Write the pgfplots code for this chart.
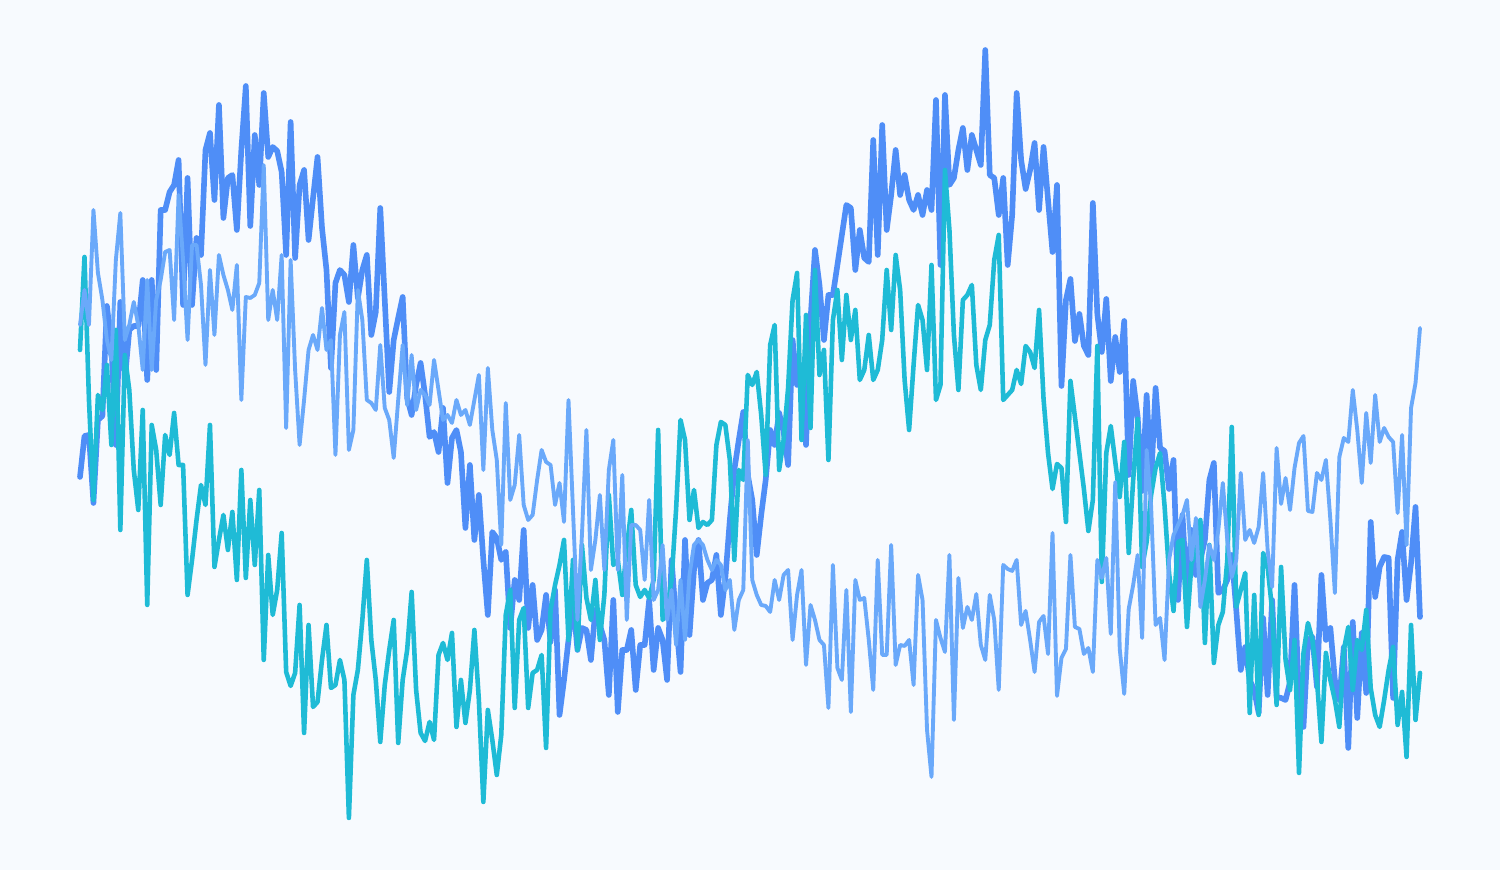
\documentclass[border=0pt]{standalone}
\usepackage{pgfplots}
\usepackage{pgfplotstable}
\pgfplotsset{compat=1.18}

\definecolor{bgc}{HTML}{F7FAFE}
\definecolor{darkblue}{HTML}{4F8EF7}
\definecolor{tealc}{HTML}{1FBBD6}
\definecolor{lightblue}{HTML}{6AA9FA}

% values are screen rows (top = 0), 300 samples per series
\pgfplotstableread[row sep=\\]{
y\\
477\\436\\435\\503\\420\\416\\306\\345\\445\\302\\
380\\330\\326\\326\\280\\380\\280\\370\\210\\210\\
192\\185\\160\\305\\178\\305\\238\\255\\150\\133\\
200\\105\\218\\178\\175\\230\\150\\86\\226\\135\\
185\\93\\157\\147\\151\\172\\255\\122\\258\\185\\
170\\240\\198\\157\\228\\270\\368\\283\\270\\275\\
302\\245\\298\\270\\255\\335\\312\\208\\300\\392\\
340\\318\\297\\398\\415\\385\\363\\395\\437\\432\\
452\\408\\483\\438\\430\\452\\528\\465\\540\\495\\
560\\615\\532\\538\\560\\552\\628\\580\\600\\530\\
628\\585\\640\\630\\595\\642\\590\\715\\680\\640\\
600\\650\\628\\630\\660\\610\\625\\640\\695\\600\\
712\\650\\650\\630\\690\\645\\645\\600\\670\\628\\
640\\680\\560\\620\\672\\540\\635\\570\\540\\600\\
583\\580\\555\\615\\578\\520\\470\\440\\412\\475\\
500\\555\\515\\480\\430\\445\\413\\432\\465\\340\\
385\\375\\445\\320\\250\\285\\340\\295\\295\\265\\
235\\205\\208\\270\\230\\258\\262\\140\\255\\125\\
230\\195\\150\\195\\175\\200\\210\\195\\215\\190\\
210\\100\\265\\95\\185\\178\\150\\128\\170\\135\\
150\\165\\50\\175\\178\\215\\178\\265\\215\\93\\
160\\189\\170\\143\\210\\147\\200\\252\\185\\386\\
300\\279\\341\\314\\346\\355\\203\\314\\352\\299\\
381\\337\\372\\321\\475\\381\\417\\491\\395\\480\\
388\\448\\451\\489\\460\\600\\515\\597\\530\\575\\
560\\540\\480\\463\\593\\590\\580\\555\\610\\670\\
647\\680\\690\\713\\618\\695\\600\\697\\698\\700\\
682\\585\\700\\727\\640\\637\\687\\575\\640\\628\\
680\\700\\647\\748\\622\\718\\633\\693\\522\\597\\
567\\557\\558\\698\\560\\532\\600\\563\\507\\617\\
}\darkdata

\pgfplotstableread[row sep=\\]{
y\\
350\\257\\400\\500\\395\\410\\365\\445\\330\\530\\
355\\390\\470\\510\\410\\605\\425\\450\\505\\435\\
455\\413\\465\\465\\595\\560\\520\\485\\505\\425\\
567\\540\\515\\550\\512\\580\\470\\578\\500\\565\\
490\\660\\555\\615\\590\\533\\672\\686\\673\\605\\
733\\625\\707\\702\\660\\625\\688\\685\\660\\680\\
818\\695\\670\\620\\560\\640\\680\\742\\685\\650\\
620\\743\\680\\650\\592\\690\\733\\741\\722\\740\\
655\\643\\660\\633\\727\\680\\723\\690\\630\\700\\
802\\710\\740\\775\\735\\615\\590\\708\\620\\608\\
708\\673\\670\\655\\748\\610\\585\\565\\540\\640\\
560\\650\\545\\598\\620\\580\\640\\595\\495\\565\\
560\\595\\548\\510\\585\\597\\590\\598\\580\\430\\
620\\610\\580\\510\\420\\440\\520\\490\\528\\522\\
525\\520\\445\\422\\425\\460\\560\\470\\480\\375\\
385\\372\\415\\475\\345\\325\\470\\440\\388\\300\\
273\\440\\315\\428\\270\\375\\350\\460\\320\\290\\
360\\295\\340\\310\\380\\370\\335\\380\\370\\340\\
270\\330\\255\\290\\380\\430\\365\\305\\320\\370\\
265\\400\\385\\170\\230\\335\\390\\300\\295\\285\\
365\\390\\340\\325\\260\\235\\400\\395\\390\\370\\
384\\346\\352\\368\\310\\399\\453\\489\\464\\468\\
522\\381\\417\\453\\489\\531\\500\\346\\582\\453\\
426\\462\\497\\442\\553\\480\\419\\567\\542\\495\\
468\\453\\506\\573\\611\\542\\540\\627\\564\\551\\
520\\643\\545\\663\\625\\612\\560\\427\\607\\590\\
573\\713\\595\\715\\553\\567\\610\\705\\567\\660\\
690\\640\\773\\653\\623\\640\\680\\742\\653\\680\\
700\\727\\650\\627\\690\\640\\650\\610\\688\\715\\
727\\700\\670\\647\\725\\692\\757\\625\\720\\673\\
}\tealdata

\pgfplotstableread[row sep=\\]{
y\\
325\\290\\325\\210\\273\\300\\340\\360\\260\\213\\
340\\325\\302\\325\\370\\280\\370\\300\\280\\252\\
250\\320\\195\\260\\340\\245\\245\\285\\365\\270\\
335\\255\\275\\290\\310\\265\\400\\297\\298\\295\\
283\\165\\320\\290\\320\\255\\428\\260\\370\\445\\
400\\350\\335\\350\\308\\350\\340\\455\\335\\312\\
450\\430\\290\\320\\400\\403\\410\\345\\408\\420\\
458\\400\\345\\405\\355\\410\\390\\395\\405\\360\\
390\\420\\415\\423\\400\\415\\410\\425\\400\\375\\
470\\368\\430\\460\\545\\403\\500\\485\\435\\505\\
520\\515\\480\\450\\462\\465\\505\\483\\522\\400\\
510\\620\\535\\430\\570\\540\\495\\570\\470\\440\\
570\\475\\620\\525\\525\\530\\580\\500\\600\\590\\
545\\620\\590\\645\\580\\640\\575\\545\\540\\545\\
560\\570\\560\\565\\590\\580\\630\\600\\590\\440\\
580\\595\\605\\606\\612\\580\\600\\575\\570\\640\\
595\\570\\665\\605\\620\\640\\645\\708\\565\\668\\
680\\590\\712\\580\\600\\598\\640\\690\\560\\655\\
655\\545\\665\\645\\646\\640\\685\\575\\600\\730\\
777\\620\\638\\652\\555\\720\\578\\628\\607\\620\\
594\\645\\660\\595\\620\\690\\565\\569\\571\\560\\
625\\611\\640\\672\\622\\616\\654\\533\\696\\658\\
649\\555\\627\\629\\654\\648\\672\\560\\578\\558\\
634\\482\\649\\694\\609\\585\\555\\638\\450\\506\\
625\\618\\660\\560\\535\\525\\515\\500\\560\\518\\
607\\580\\545\\560\\530\\483\\540\\577\\560\\473\\
540\\530\\543\\527\\473\\550\\587\\448\\504\\478\\
510\\468\\443\\436\\511\\512\\473\\480\\460\\520\\
593\\457\\438\\442\\390\\430\\483\\413\\463\\395\\
442\\428\\437\\442\\513\\435\\545\\408\\383\\328\\
}\lightdata

\begin{document}
\begin{tikzpicture}
\begin{axis}[
    hide axis,
    scale only axis,
    width=15cm, height=8.7cm,
    xmin=-17.851, xmax=316.85,
    ymin=0, ymax=870,
    y dir=reverse,
    no markers,
    every axis plot/.append style={line join=round, line cap=round},
]
\fill[bgc] (rel axis cs:0,0) rectangle (rel axis cs:1,1);
\addplot[darkblue, line width=1.6pt] table[x expr=\coordindex, y=y] {\darkdata};
\addplot[tealc, line width=1.3pt] table[x expr=\coordindex, y=y] {\tealdata};
\addplot[lightblue, line width=1.1pt] table[x expr=\coordindex, y=y] {\lightdata};
\end{axis}
\end{tikzpicture}
\end{document}
